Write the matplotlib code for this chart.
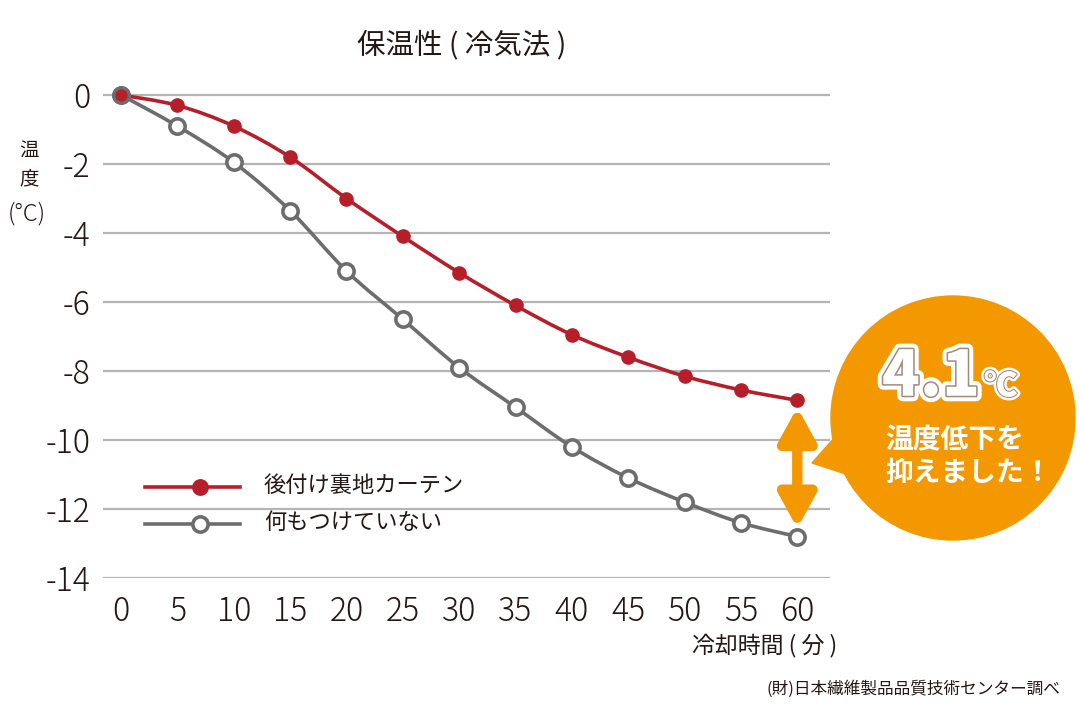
import numpy as np
import matplotlib
matplotlib.use("Agg")
import matplotlib.pyplot as plt
from matplotlib.path import Path
from matplotlib.patches import PathPatch, Circle, Polygon
import matplotlib.patheffects as pe
from matplotlib.transforms import IdentityTransform

plt.rcParams['font.family'] = ['Noto Sans CJK JP', 'DejaVu Sans']
plt.rcParams['axes.unicode_minus'] = False

# データ
minutes = [0, 5, 10, 15, 20, 25, 30, 35, 40, 45, 50, 55, 60]
curtain = [0, -0.3, -0.9, -1.8, -3.0, -4.1, -5.15, -6.1, -6.95, -7.6, -8.15, -8.55, -8.85]
nothing = [0, -0.9, -1.95, -3.35, -5.1, -6.5, -7.9, -9.05, -10.2, -11.1, -11.8, -12.4, -12.8]
series_names = ["後付け裏地カーテン", "何もつけていない"]
yticks = [0, -2, -4, -6, -8, -10, -12, -14]

RED = "#b61f2a"
GRAY = "#6d6d6d"
ORANGE = "#f39800"
TXT = "#231815"


def smooth_path(xs, ys):
    # Catmull-Rom -> ベジェ曲線
    pts = np.column_stack([xs, ys]).astype(float)
    p = np.vstack([pts[0], pts, pts[-1]])
    verts = [tuple(pts[0])]
    codes = [Path.MOVETO]
    for i in range(1, len(p) - 2):
        c1 = p[i] + (p[i + 1] - p[i - 1]) / 6
        c2 = p[i + 1] - (p[i + 2] - p[i]) / 6
        verts += [tuple(c1), tuple(c2), tuple(p[i + 1])]
        codes += [Path.CURVE4] * 3
    return Path(verts, codes)


fig = plt.figure(figsize=(10.8, 7.2), dpi=100)
ax = fig.add_axes([103 / 1080, 1 - 578 / 720, 727 / 1080, (578 - 84) / 720])
ax.set_xlim(-1.6, 62.9)
ax.set_ylim(-14, 0.32)
for s in ax.spines.values():
    s.set_visible(False)
ax.set_yticks(yticks)
ax.set_xticks(minutes)
ax.tick_params(length=0, labelsize=23, colors=TXT)
ax.tick_params(axis='y', pad=9)
ax.tick_params(axis='x', pad=12)
for lab in ax.get_xticklabels() + ax.get_yticklabels():
    lab.set_fontweight('light')
ax.grid(axis='y', color="#b5b5b5", lw=1.6, zorder=0)
ax.set_axisbelow(True)

ax.add_patch(PathPatch(smooth_path(minutes, nothing), fc='none', ec=GRAY, lw=2.6, zorder=2))
ax.add_patch(PathPatch(smooth_path(minutes, curtain), fc='none', ec=RED, lw=2.6, zorder=3))
ax.plot(minutes, nothing, ls='none', marker='o', ms=11, mfc='white', mec=GRAY, mew=2.6,
        zorder=4, clip_on=False)
ax.plot(minutes, curtain, ls='none', marker='o', ms=9.5, mfc=RED, mec=RED,
        zorder=5, clip_on=False)
# 0分の点は灰色の縁付き
ax.plot(minutes[0], curtain[0], marker='o', ms=11, mfc=RED, mec=GRAY, mew=2.2, zorder=6, clip_on=False)

# 差の矢印
ax.annotate("", xy=(minutes[-1], nothing[-1]), xytext=(minutes[-1], curtain[-1]),
            arrowprops=dict(arrowstyle="<|-|>,head_length=1.0,head_width=0.55", color=ORANGE,
                            lw=7.5, mutation_scale=20, shrinkA=5, shrinkB=6),
            zorder=3)

# 凡例
leg_y = [487, 524]
for name, col, filled, y in zip(series_names, [RED, GRAY], [True, False], leg_y):
    fy = 1 - y / 720
    fig.add_artist(plt.Line2D([145 / 1080, 240 / 1080], [fy, fy], color=col, lw=2.6,
                              transform=fig.transFigure))
    fig.add_artist(plt.Line2D([200 / 1080], [fy], marker='o', ls='none',
                              ms=9.5 if filled else 11, mfc=col if filled else 'white',
                              mec=col, mew=2.6, transform=fig.transFigure))
    fig.text(264 / 1080, fy + 0.002, name, fontsize=16, color=TXT, va='center', ha='left')

# タイトル・軸ラベル
fig.text(462 / 1080, 1 - 45 / 720, "保温性 ( 冷気法 )", fontsize=20.5, color=TXT, ha='center', va='center')
fig.text(29 / 1080, 1 - 151 / 720, "温", fontsize=14, color=TXT, ha='center', va='center')
fig.text(29 / 1080, 1 - 179 / 720, "度", fontsize=14, color=TXT, ha='center', va='center')
fig.text(27 / 1080, 1 - 214 / 720, "(°C)", fontsize=17, fontweight='light', color=TXT,
         ha='center', va='center')
fig.text(765 / 1080, 1 - 645 / 720, "冷却時間 ( 分 )", fontsize=16.5, color=TXT, ha='center', va='center')
fig.text(1060 / 1080, 1 - 689 / 720, "(財)日本繊維製品品質技術センター調べ", fontsize=12,
         color=TXT, ha='right', va='center')

# 吹き出し
H = 720
fig.add_artist(Circle((953, H - 418), 122, color=ORANGE, transform=IdentityTransform(), zorder=5))
fig.add_artist(Polygon([(812, H - 463), (850, H - 420), (870, H - 482)], closed=True,
                       color=ORANGE, transform=IdentityTransform(), zorder=5))
big = fig.text(931 / 1080, 1 - 377 / 720, "4.1", fontsize=45, fontweight='black', color='white',
               ha='center', va='center', zorder=6)
big.set_path_effects([pe.Stroke(linewidth=8, foreground='white'),
                      pe.Stroke(linewidth=2.2, foreground='#a08c78'), pe.Normal()])
deg = fig.text(984 / 1080, 1 - 386 / 720, "℃", fontsize=24, fontweight='black', color='white',
               ha='left', va='center', zorder=6)
deg.set_path_effects([pe.Stroke(linewidth=5, foreground='white'),
                      pe.Stroke(linewidth=1.5, foreground='#a08c78'), pe.Normal()])
fig.text(885 / 1080, 1 - 440 / 720, "温度低下を", fontsize=20, fontweight='bold', color='white',
         ha='left', va='center', zorder=6)
fig.text(885 / 1080, 1 - 473 / 720, "抑えました！", fontsize=20, fontweight='bold', color='white',
         ha='left', va='center', zorder=6)

fig.savefig("out.png", dpi=100)
